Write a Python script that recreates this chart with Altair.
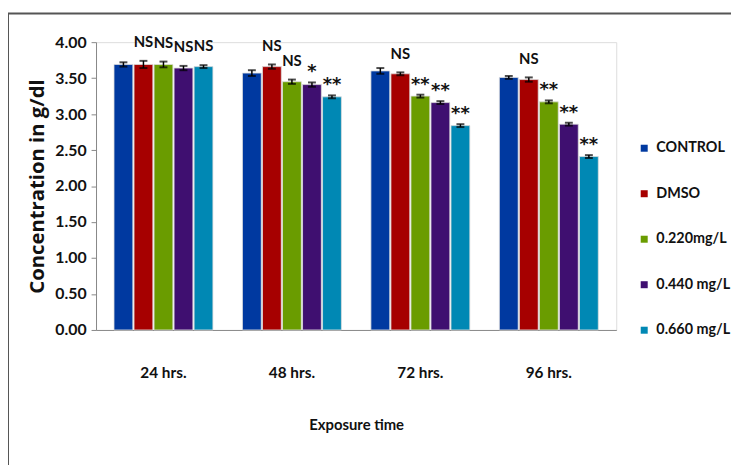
import altair as alt
import pandas as pd

times = ["24 hrs.", "48 hrs.", "72 hrs.", "96 hrs."]
groups = ["CONTROL", "DMSO", "0.220mg/L", "0.440 mg/L", "0.660 mg/L"]
colors = ["#0039A0", "#A60000", "#6A9C00", "#3F0F70", "#0088B4"]

# values per group, across times
control = [3.69, 3.57, 3.60, 3.51]
dmso = [3.69, 3.66, 3.56, 3.48]
c220 = [3.69, 3.45, 3.25, 3.17]
c440 = [3.64, 3.41, 3.16, 2.86]
c660 = [3.66, 3.24, 2.84, 2.41]

err_control = [0.03, 0.04, 0.04, 0.02]
err_dmso = [0.05, 0.03, 0.02, 0.03]
err_c220 = [0.04, 0.03, 0.02, 0.02]
err_c440 = [0.03, 0.03, 0.02, 0.02]
err_c660 = [0.02, 0.02, 0.02, 0.02]

sig_control = ["", "", "", ""]
sig_dmso = ["NS", "NS", "NS", "NS"]
sig_c220 = ["NS", "NS", "**", "**"]
sig_c440 = ["NS", "*", "**", "**"]
sig_c660 = ["NS", "**", "**", "**"]

y_ticks = [0, 0.5, 1, 1.5, 2, 2.5, 3, 3.5, 4]

vals = [control, dmso, c220, c440, c660]
errs = [err_control, err_dmso, err_c220, err_c440, err_c660]
sigs = [sig_control, sig_dmso, sig_c220, sig_c440, sig_c660]

rows = []
for g, v, e, s in zip(groups, vals, errs, sigs):
    for i, t in enumerate(times):
        rows.append({"time": t, "group": g, "value": v[i], "err": e[i],
                     "lo": v[i] - e[i], "hi": v[i] + e[i], "sig": s[i]})
df = pd.DataFrame(rows)

FONT = "Lato, Roboto, sans-serif"
TITLE = "Open Sans, DejaVu Sans, sans-serif"

x_axis = alt.Axis(title="Exposure time", labelAngle=0, ticks=False,
                  labelPadding=36, titlePadding=37,
                  labelFontSize=15.5, labelFontWeight="bold",
                  titleFontSize=15, titleFontWeight="bold",
                  labelFont=FONT, titleFont=FONT,
                  domainColor="#888888", labelColor="#111111",
                  titleColor="#111111")
y_axis = alt.Axis(title="Concentration in g/dl",
                  values=y_ticks, format=".2f", grid=False, tickSize=5,
                  labelOverlap=False,
                  tickColor="#888888", domainColor="#888888",
                  labelFontSize=16, labelFontWeight="bold",
                  titleFontSize=20.5, titleFontWeight="bold",
                  labelFont=FONT, titleFont=TITLE, labelPadding=5,
                  titlePadding=7, labelColor="#111111",
                  titleColor="#111111")

x_scale = alt.Scale(paddingInner=0.23, paddingOuter=0.14)
y_scale = alt.Scale(domain=[0, 4], nice=False)

xx = alt.X("time:N", sort=times, scale=x_scale, axis=x_axis)
xo = alt.XOffset("group:N", sort=groups, scale=alt.Scale(paddingInner=0.06))

def yy(field):
    return alt.Y(field, scale=y_scale, axis=y_axis)

base = alt.Chart(df)

bars = base.mark_bar(stroke="#dddddd", strokeWidth=0.8).encode(
    x=xx, xOffset=xo, y=yy("value:Q"),
    color=alt.Color("group:N", sort=groups,
                    scale=alt.Scale(domain=groups, range=colors),
                    legend=alt.Legend(title=None, orient="none",
                                      legendX=547, legendY=100,
                                      symbolType="square", symbolSize=50,
                                      symbolStrokeWidth=0,
                                      labelFontSize=14.5, labelFontWeight="bold",
                                      labelFont=FONT, labelColor="#111111",
                                      rowPadding=31, padding=0,
                                      labelOffset=5)),
)

rules = base.mark_rule(color="black", strokeWidth=1.5).encode(
    x=xx, xOffset=xo, y=yy("lo:Q"), y2="hi:Q",
)
caps_lo = base.mark_tick(color="black", thickness=2, size=8).encode(
    x=xx, xOffset=xo, y=yy("lo:Q"),
)
caps_hi = base.mark_tick(color="black", thickness=2, size=8).encode(
    x=xx, xOffset=xo, y=yy("hi:Q"),
)
ns_labels = base.transform_filter(alt.datum.sig == "NS").mark_text(
    baseline="alphabetic", dy=-14, fontSize=15,
    font=FONT, fontWeight="bold", color="#111111").encode(
    x=xx, xOffset=xo, y=yy("hi:Q"), text="sig:N",
)
star_labels = base.transform_filter(
    (alt.datum.sig != "NS") & (alt.datum.sig != "")).mark_text(
    baseline="alphabetic", dy=-5, fontSize=18,
    font="DejaVu Sans, sans-serif", fontWeight="bold", color="#111111").encode(
    x=xx, xOffset=xo, y=yy("hi:Q"), text="sig:N",
)

frame = alt.Chart(alt.Data(values=[{}])).mark_rect(
    fillOpacity=0, stroke="#555555", strokeWidth=2).encode(
    x=alt.value(-89), x2=alt.value(700), y=alt.value(-29), y2=alt.value(480))

chart = alt.layer(frame, bars, rules, caps_lo, caps_hi, ns_labels,
                  star_labels).properties(
    width=526, height=291,
    autosize=alt.AutoSizeParams(type="none"),
    padding={"left": 89, "top": 32, "right": 116, "bottom": 134},
).configure_view(strokeWidth=0, stroke="transparent").configure(background="white")

chart.save("out.html", embed_options={"renderer": "svg", "actions": False})
